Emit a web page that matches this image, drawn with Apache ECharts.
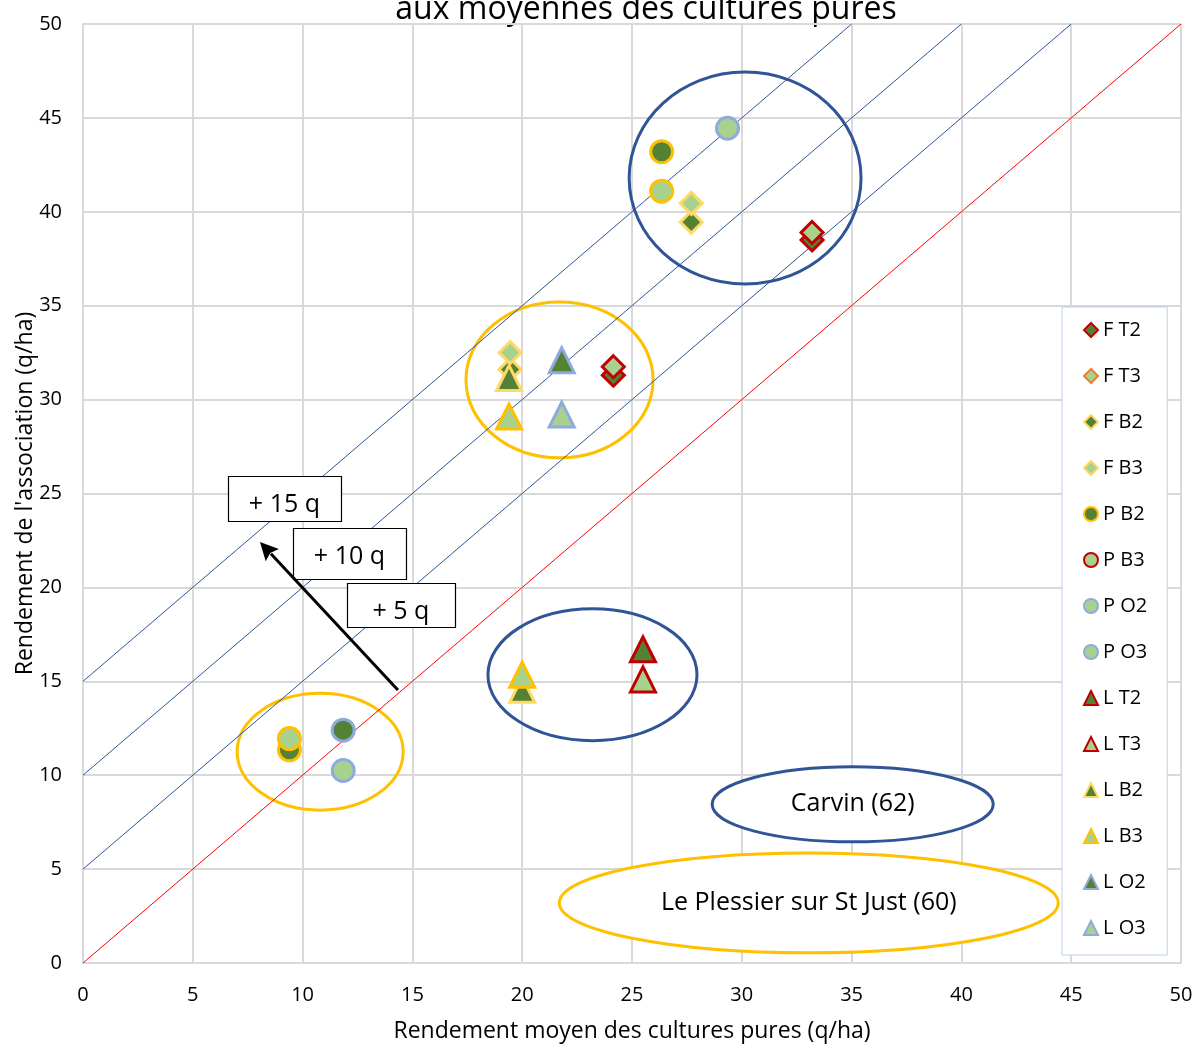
<!DOCTYPE html>
<html>
<head>
<meta charset="utf-8">
<script src="https://cdn.jsdelivr.net/npm/echarts@6/dist/echarts.min.js"></script>
<style>html,body{margin:0;padding:0;background:#fff}#chart{width:1198px;height:1046px}</style>
</head>
<body>
<div id="chart"></div>
<script>
// valeurs : [rendement moyen cultures pures, rendement association]
var fT2 = [[33.2, 38.5], [24.15, 31.3]];
var fT3 = [[33.2, 38.9], [24.15, 31.75]];
var fB2 = [[27.7, 39.45], [19.45, 31.6]];
var fB3 = [[27.7, 40.45], [19.45, 32.5]];
var pB2 = [[26.35, 43.2], [9.4, 11.35]];
var pB3 = [[26.35, 41.1], [9.4, 11.95]];
var pO2 = [[11.85, 12.4]];
var pO3 = [[29.35, 44.45], [11.85, 10.25]];
var lT2 = [[25.5, 16.7]];
var lT3 = [[25.5, 15.1]];
var lB2 = [[19.4, 31.15], [20.0, 14.55]];
var lB3 = [[19.4, 29.1], [20.0, 15.35]];
var lO2 = [[21.8, 32.1]];
var lO3 = [[21.8, 29.2]];

var axisTicks = [0, 5, 10, 15, 20, 25, 30, 35, 40, 45, 50];

// droites y = x + k
var diagonals = [0, 5, 10, 15];

// ellipses de regroupement (centre x, centre y, rayon x, rayon y)
var groupEllipses = [[30.15, 41.8, 5.28, 5.64], [21.7, 31.05, 4.26, 4.15], [23.2, 15.35, 4.76, 3.51], [10.8, 11.25, 3.78, 3.11]];
var groupColors = ['#2f5597', '#ffc000', '#2f5597', '#ffc000'];
var siteEllipses = [[35.05, 8.45, 6.4, 2.0], [33.05, 3.2, 11.36, 2.66]];
var siteNames = ['Carvin (62)', 'Le Plessier sur St Just (60)'];
var siteColors = ['#2f5597', '#ffc000'];

// étiquettes "+ k q" (coin haut gauche) et flèche
var gainBoxes = [[6.6, 25.93], [9.56, 23.16], [12.02, 20.23]];
var gainLabels = ['+ 15 q', '+ 10 q', '+ 5 q'];
var gainArrow = [[14.34, 14.54, 8.06, 22.42]];

var FONT = '"Open Sans"';
var dark = '#548235', light = '#a9d18e';

var markers = [
    {name: 'F T2', data: fT2, symbol: 'diamond', fill: dark, border: '#c00000'},
    {name: 'F T3', data: fT3, symbol: 'diamond', fill: light, border: '#c00000', legendBorder: '#ed7d31'},
    {name: 'F B2', data: fB2, symbol: 'diamond', fill: dark, border: '#ffd966'},
    {name: 'F B3', data: fB3, symbol: 'diamond', fill: light, border: '#ffd966'},
    {name: 'P B2', data: pB2, symbol: 'circle', fill: dark, border: '#ffc000'},
    {name: 'P B3', data: pB3, symbol: 'circle', fill: light, border: '#ffc000', legendBorder: '#c00000'},
    {name: 'P O2', data: pO2, symbol: 'circle', fill: dark, border: '#8faadc', legendFill: light},
    {name: 'P O3', data: pO3, symbol: 'circle', fill: light, border: '#8faadc'},
    {name: 'L T2', data: lT2, symbol: 'triangle', fill: dark, border: '#c00000'},
    {name: 'L T3', data: lT3, symbol: 'triangle', fill: light, border: '#c00000'},
    {name: 'L B2', data: lB2, symbol: 'triangle', fill: dark, border: '#ffd966'},
    {name: 'L B3', data: lB3, symbol: 'triangle', fill: light, border: '#ffc000'},
    {name: 'L O2', data: lO2, symbol: 'triangle', fill: dark, border: '#8faadc'},
    {name: 'L O3', data: lO3, symbol: 'triangle', fill: light, border: '#8faadc'}
];

var series = [];
diagonals.forEach(function (k) {
    series.push({
        type: 'line',
        data: [[0, k], [50 - k, 50]],
        symbol: 'none',
        silent: true,
        z: 2,
        lineStyle: {color: k === 0 ? '#ff0000' : '#2f5597', width: 1}
    });
});

series.push({
    type: 'custom',
    z: 1,
    silent: true,
    data: groupEllipses,
    renderItem: function (params, api) {
        var c = api.coord([api.value(0), api.value(1)]);
        var s = api.size([api.value(2), api.value(3)]);
        return {
            type: 'ellipse',
            shape: {cx: c[0], cy: c[1], rx: s[0], ry: s[1]},
            style: {fill: null, stroke: groupColors[params.dataIndex], lineWidth: 3}
        };
    }
});

series.push({
    type: 'custom',
    z: 3,
    silent: true,
    data: siteEllipses,
    renderItem: function (params, api) {
        var c = api.coord([api.value(0), api.value(1)]);
        var s = api.size([api.value(2), api.value(3)]);
        return {
            type: 'group',
            children: [{
                type: 'ellipse',
                shape: {cx: c[0], cy: c[1], rx: s[0], ry: s[1]},
                style: {fill: '#fff', stroke: siteColors[params.dataIndex], lineWidth: 3}
            }, {
                type: 'text',
                x: c[0], y: c[1],
                style: {text: siteNames[params.dataIndex], fill: '#000', font: '25px ' + FONT, align: 'center', verticalAlign: 'middle'}
            }]
        };
    }
});

markers.forEach(function (m) {
    var size = m.symbol === 'triangle' ? 25 : 22;
    series.push({
        name: m.name,
        type: 'scatter',
        data: m.data,
        symbol: m.symbol,
        symbolSize: size,
        z: 5,
        itemStyle: {color: m.fill, borderColor: m.border, borderWidth: 3, opacity: 1}
    });
});

series.push({
    type: 'custom',
    z: 6,
    silent: true,
    data: gainBoxes,
    renderItem: function (params, api) {
        var p = api.coord([api.value(0), api.value(1)]);
        var w = [113, 113, 108][params.dataIndex];
        var h = [45, 51, 44][params.dataIndex];
        return {
            type: 'group',
            children: [{
                type: 'rect',
                shape: {x: Math.round(p[0]) + 0.5, y: Math.round(p[1]) + 0.5, width: w, height: h},
                style: {fill: '#fff', stroke: '#000', lineWidth: 1.2}
            }, {
                type: 'text',
                x: p[0] + w / 2, y: p[1] + 29,
                style: {text: gainLabels[params.dataIndex], fill: '#000', font: '25px ' + FONT, align: 'center', verticalAlign: 'middle'}
            }]
        };
    }
});

series.push({
    type: 'custom',
    z: 7,
    silent: true,
    data: gainArrow,
    encode: {x: [0, 2], y: [1, 3]},
    renderItem: function (params, api) {
        var a = api.coord([api.value(0), api.value(1)]);
        var b = api.coord([api.value(2), api.value(3)]);
        var dx = b[0] - a[0], dy = b[1] - a[1];
        var len = Math.sqrt(dx * dx + dy * dy);
        var ux = dx / len, uy = dy / len;
        var headL = 18, headW = 9;
        var bx = b[0] - ux * headL, by = b[1] - uy * headL;
        return {
            type: 'group',
            children: [{
                type: 'line',
                shape: {x1: a[0], y1: a[1], x2: bx + ux * 2, y2: by + uy * 2},
                style: {stroke: '#000', lineWidth: 3}
            }, {
                type: 'polygon',
                shape: {points: [[b[0], b[1]], [bx - uy * headW, by + ux * headW], [bx + ux * 3, by + uy * 3], [bx + uy * headW, by - ux * headW]]},
                style: {fill: '#000'}
            }]
        };
    }
});

var chart = echarts.init(document.getElementById('chart'));

var option = {
    backgroundColor: '#fff',
    animation: false,
    graphic: [{
        type: 'text',
        x: 646, y: 26,
        style: {text: 'aux moyennes des cultures pures', fill: '#000', font: '32px ' + FONT, align: 'center', verticalAlign: 'bottom'}
    }],
    grid: {left: 83, right: 17, top: 24, bottom: 83, containLabel: false, outerBoundsMode: 'none'},
    xAxis: {
        type: 'value',
        min: axisTicks[0], max: axisTicks[axisTicks.length - 1], interval: 5,
        name: 'Rendement moyen des cultures pures (q/ha)',
        nameLocation: 'middle', nameGap: 57, nameMoveOverlap: false,
        nameTextStyle: {fontFamily: FONT, fontSize: 23, color: '#000'},
        axisLine: {lineStyle: {color: '#d9d9d9', width: 2}},
        axisTick: {show: false},
        axisLabel: {fontFamily: FONT, fontSize: 20, color: '#000', margin: 22},
        splitLine: {lineStyle: {color: '#d9d9d9', width: 2}}
    },
    yAxis: {
        type: 'value',
        min: axisTicks[0], max: axisTicks[axisTicks.length - 1], interval: 5,
        name: "Rendement de l'association (q/ha)",
        nameLocation: 'middle', nameGap: 46, nameMoveOverlap: false,
        nameTextStyle: {fontFamily: FONT, fontSize: 23, color: '#000'},
        axisLine: {show: true, lineStyle: {color: '#d9d9d9', width: 2}},
        axisTick: {show: false},
        axisLabel: {fontFamily: FONT, fontSize: 20, color: '#000', margin: 21},
        splitLine: {lineStyle: {color: '#d9d9d9', width: 2}}
    },
    legend: {
        orient: 'vertical',
        left: 1062, top: 307,
        padding: [13, 20, 17, 21],
        itemGap: 26,
        itemWidth: 14, itemHeight: 14,
        borderColor: '#bdd0e9', borderWidth: 1,
        backgroundColor: '#fff',
        textStyle: {fontFamily: FONT, fontSize: 20, color: '#000'},
        data: markers.map(function (m) {
            var st = {};
            if (m.legendBorder) st.borderColor = m.legendBorder;
            if (m.legendFill) st.color = m.legendFill;
            return {name: m.name, itemStyle: st};
        })
    },
    series: series
};

chart.setOption(option);
</script>
</body>
</html>
